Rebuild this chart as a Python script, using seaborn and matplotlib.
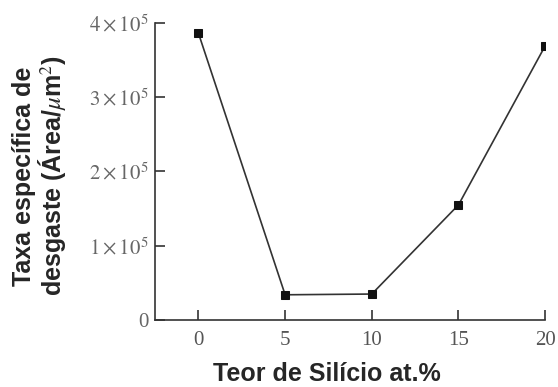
import matplotlib
matplotlib.use("Agg")
import matplotlib.pyplot as plt
import seaborn as sns
import pandas as pd

silicon = [0, 5, 10, 15, 20]
wear_rate = [3.86e5, 0.34e5, 0.35e5, 1.55e5, 3.69e5]
x_ticks = [0, 5, 10, 15, 20]
y_ticks = [0, 1e5, 2e5, 3e5, 4e5]
y_tick_labels = ["0", r"$1\times10^5$", r"$2\times10^5$", r"$3\times10^5$", r"$4\times10^5$"]

sns.set_theme(style="white")
plt.rcParams["mathtext.fontset"] = "stix"

df = pd.DataFrame({"x": silicon, "y": wear_rate})

fig = plt.figure(figsize=(5.58, 3.87), dpi=100)
ax = fig.add_axes([0.278, 0.173, 0.699, 0.768])
sns.lineplot(data=df, x="x", y="y", ax=ax, color="#333333", linewidth=1.2,
             marker="s", markersize=6, markerfacecolor="#111111",
             markeredgecolor="#111111")

ax.set_xlim(-2.5, 20)
ax.set_ylim(0, 4e5)
ax.set_xticks(x_ticks)
ax.set_xticklabels([str(t) for t in x_ticks], fontfamily="Liberation Serif", fontsize=15, color="#555555")
ax.set_yticks(y_ticks)
ax.set_yticklabels(y_tick_labels, fontfamily="Liberation Serif", fontsize=15, color="#666666")
ax.tick_params(axis="both", direction="in", length=7, width=1.2, color="#333333",
               bottom=True, left=True)
ax.tick_params(axis="x", pad=8)
ax.tick_params(axis="y", pad=5)

for s in ["top", "right"]:
    ax.spines[s].set_visible(False)
for s in ["left", "bottom"]:
    ax.spines[s].set_color("#333333")
    ax.spines[s].set_linewidth(1.2)

ax.set_xlabel("Teor de Silício at.%", fontfamily="Liberation Sans", fontweight="bold",
              fontsize=18, va="center")
ax.xaxis.set_label_coords(0.441, -0.182)
ax.set_ylabel("Taxa específica de\ndesgaste (Área/$\\mu$m$^2$)", fontfamily="Liberation Sans",
              fontweight="bold", fontsize=18, linespacing=1.0, va="center")
ax.yaxis.set_label_coords(-0.295, 0.485)

fig.savefig("out.png", dpi=100)
